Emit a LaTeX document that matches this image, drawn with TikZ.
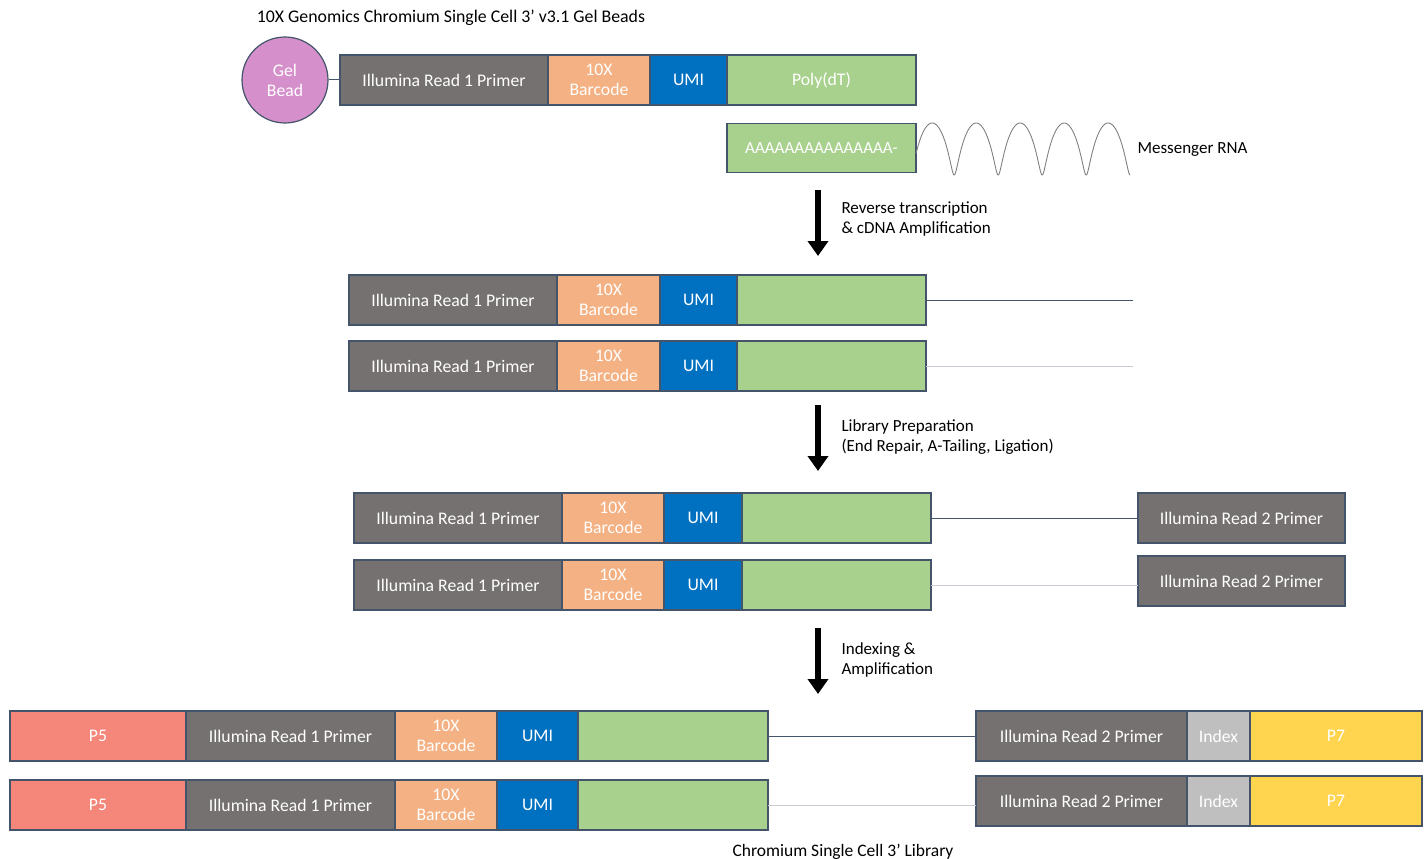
\documentclass[tikz,border=0pt]{standalone}
\usepackage{fontspec}
\setmainfont{Carlito}
\usepackage{xcolor}
\usetikzlibrary{positioning, arrows.meta}

\definecolor{edge}{HTML}{44546A}
\definecolor{primer}{HTML}{767171}
\definecolor{bcode}{HTML}{F4B183}
\definecolor{umi}{HTML}{0070C0}
\definecolor{polyt}{HTML}{A9D18E}
\definecolor{pfive}{HTML}{F4877A}
\definecolor{idx}{HTML}{BFBFBF}
\definecolor{pseven}{HTML}{FFD44F}
\definecolor{beadpink}{HTML}{D58FCB}

\begin{document}
\begin{tikzpicture}[
    x=1pt, y=-1pt,
    seg/.style={draw=edge, line width=1.2pt, minimum height=50pt,
                inner sep=0pt, outer sep=0pt, align=center, text=white,
                font=\fontsize{17.7}{20}\selectfont},
    link/.style={draw=edge, line width=1pt},
    faint/.style={draw=edge!30, line width=1pt},
    bigarw/.style={line width=6pt, -{Triangle[width=20pt, length=15pt]}},
    note/.style={align=left, anchor=west, font=\fontsize{17}{20}\selectfont},
]
\useasboundingbox (0,0) rectangle (1428,859);

% --- Gel bead and oligo ---
\node[note, anchor=center, font=\fontsize{17.8}{20}\selectfont] (title) at (451,18)
    {10X Genomics Chromium Single Cell 3’ v3.1 Gel Beads};
\node[circle, draw=edge, line width=1.2pt, fill=beadpink, minimum size=86pt,
      inner sep=0pt, align=center, text=white,
      font=\fontsize{17.7}{20}\selectfont] (bead) at (285,80) {Gel\\Bead};
\node[seg, fill=primer, minimum width=208pt, anchor=west] (p0) at (340,80)
    {Illumina Read 1 Primer};
\node[seg, fill=bcode, minimum width=102pt, right=0pt of p0] (bc0) {10X\\Barcode};
\node[seg, fill=umi, minimum width=77pt, right=0pt of bc0] (umi0) {UMI};
\node[seg, fill=polyt, minimum width=189pt, right=0pt of umi0] (dt0) {Poly(dT)};
\draw[link] (bead) -- (p0);

% --- Messenger RNA ---
\node[seg, fill=polyt, minimum width=189pt, minimum height=49pt, anchor=west,
      font=\fontsize{17}{20}\selectfont] (polya) at (727,148) {AAAAAAAAAAAAAAA-};
\draw[draw=gray, line width=0.9pt] plot[domain=-100:1620, samples=300, smooth,
      variable=\t] ({932.2+0.1222*\t+4*sin(\t)}, {149-26*cos(\t)});
\node[note] (mrna) at (1134,150) {Messenger RNA};

% --- Step 1 ---
\coordinate (s1a) at (818,190);
\coordinate (s1b) at (818,256);
\draw[bigarw] (s1a) -- (s1b);
\node[note] (s1lbl) at (838,219) {Reverse transcription\\\& cDNA Amplification};

% --- cDNA ---
\node[seg, fill=primer, minimum width=208pt, anchor=west] (p1) at (349,300)
    {Illumina Read 1 Primer};
\node[seg, fill=bcode, minimum width=103pt, right=0pt of p1] (bc1) {10X\\Barcode};
\node[seg, fill=umi, minimum width=77pt, right=0pt of bc1] (umi1) {UMI};
\node[seg, fill=polyt, minimum width=189pt, right=0pt of umi1] (g1) {};
\coordinate (e1) at (1133,300);
\draw[link] (g1) -- (e1);

\node[seg, fill=primer, minimum width=208pt, anchor=west] (p2) at (349,366)
    {Illumina Read 1 Primer};
\node[seg, fill=bcode, minimum width=103pt, right=0pt of p2] (bc2) {10X\\Barcode};
\node[seg, fill=umi, minimum width=77pt, right=0pt of bc2] (umi2) {UMI};
\node[seg, fill=polyt, minimum width=189pt, right=0pt of umi2] (g2) {};
\coordinate (e2) at (1133,366);
\draw[faint] (g2) -- (e2);

% --- Step 2 ---
\coordinate (s2a) at (818,405);
\coordinate (s2b) at (818,471);
\draw[bigarw] (s2a) -- (s2b);
\node[note] (s2lbl) at (838,437)
    {Library Preparation\\(End Repair, A-Tailing, Ligation)};

% --- Adapter ligated ---
\node[seg, fill=primer, minimum width=208pt, anchor=west] (p3) at (354,518)
    {Illumina Read 1 Primer};
\node[seg, fill=bcode, minimum width=102pt, right=0pt of p3] (bc3) {10X\\Barcode};
\node[seg, fill=umi, minimum width=78pt, right=0pt of bc3] (umi3) {UMI};
\node[seg, fill=polyt, minimum width=189pt, right=0pt of umi3] (g3) {};
\node[seg, fill=primer, minimum width=207pt, anchor=west] (r3) at (1138,518)
    {Illumina Read 2 Primer};
\draw[link] (g3) -- (r3);

\node[seg, fill=primer, minimum width=208pt, anchor=west] (p4) at (354,585)
    {Illumina Read 1 Primer};
\node[seg, fill=bcode, minimum width=102pt, right=0pt of p4] (bc4) {10X\\Barcode};
\node[seg, fill=umi, minimum width=78pt, right=0pt of bc4] (umi4) {UMI};
\node[seg, fill=polyt, minimum width=189pt, right=0pt of umi4] (g4) {};
\node[seg, fill=primer, minimum width=207pt, anchor=west] (r4) at (1138,581)
    {Illumina Read 2 Primer};
\draw[faint] (g4.east) -- (g4.east -| r4.west);

% --- Step 3 ---
\coordinate (s3a) at (818,628);
\coordinate (s3b) at (818,694);
\draw[bigarw] (s3a) -- (s3b);
\node[note] (s3lbl) at (838,660) {Indexing \&\\Amplification};

% --- Final library ---
\node[seg, fill=pfive, minimum width=176pt, anchor=west] (f5) at (10,736) {P5};
\node[seg, fill=primer, minimum width=209pt, right=0pt of f5] (p5) {Illumina Read 1 Primer};
\node[seg, fill=bcode, minimum width=102pt, right=0pt of p5] (bc5) {10X\\Barcode};
\node[seg, fill=umi, minimum width=81pt, right=0pt of bc5] (umi5) {UMI};
\node[seg, fill=polyt, minimum width=190pt, right=0pt of umi5] (g5) {};
\node[seg, fill=primer, minimum width=211pt, anchor=west] (r5) at (976,736)
    {Illumina Read 2 Primer};
\node[seg, fill=idx, minimum width=63pt, right=0pt of r5] (i5) {Index};
\node[seg, fill=pseven, minimum width=172pt, right=0pt of i5] (f7a) {P7};
\draw[link] (g5) -- (r5);

\node[seg, fill=pfive, minimum width=176pt, anchor=west] (f6) at (10,805) {P5};
\node[seg, fill=primer, minimum width=209pt, right=0pt of f6] (p6) {Illumina Read 1 Primer};
\node[seg, fill=bcode, minimum width=102pt, right=0pt of p6] (bc6) {10X\\Barcode};
\node[seg, fill=umi, minimum width=81pt, right=0pt of bc6] (umi6) {UMI};
\node[seg, fill=polyt, minimum width=190pt, right=0pt of umi6] (g6) {};
\node[seg, fill=primer, minimum width=211pt, anchor=west] (r6) at (976,801)
    {Illumina Read 2 Primer};
\node[seg, fill=idx, minimum width=63pt, right=0pt of r6] (i6) {Index};
\node[seg, fill=pseven, minimum width=172pt, right=0pt of i6] (f7b) {P7};
\draw[faint] (g6.east) -- (g6.east -| r6.west);

\node[note, anchor=center, font=\fontsize{17.5}{20}\selectfont] (cap) at (843,852)
    {Chromium Single Cell 3’ Library};
\end{tikzpicture}
\end{document}
